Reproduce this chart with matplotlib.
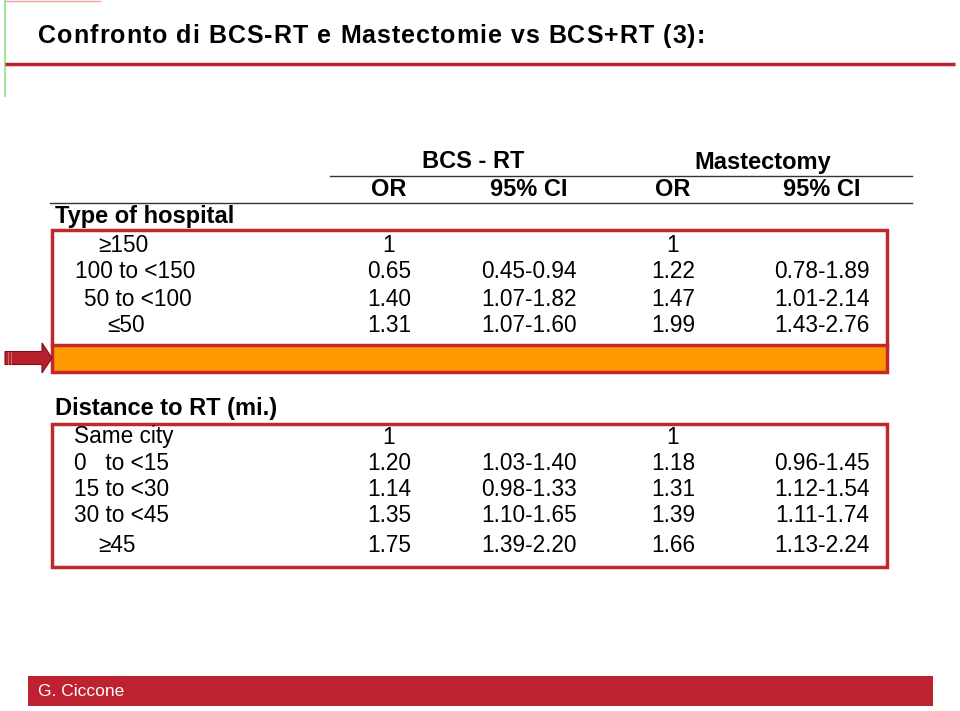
import matplotlib
matplotlib.use("Agg")
import matplotlib.pyplot as plt
from matplotlib.patches import Rectangle, FancyArrow

plt.rcParams["font.family"] = ["Liberation Sans", "DejaVu Sans"]

# ── data ──
title = "Confronto di BCS-RT e Mastectomie vs BCS+RT (3):"
groups = ["BCS - RT", "Mastectomy"]
col_heads = ["OR", "95% CI", "OR", "95% CI"]

hosp_title = "Type of hospital"
hosp_labels = ["\u2265150", "100 to <150", "50 to <100", "\u226450"]
hosp_bcs_or = ["1", "0.65", "1.40", "1.31"]
hosp_bcs_ci = ["", "0.45-0.94", "1.07-1.82", "1.07-1.60"]
hosp_mast_or = ["1", "1.22", "1.47", "1.99"]
hosp_mast_ci = ["", "0.78-1.89", "1.01-2.14", "1.43-2.76"]

dist_title = "Distance to RT (mi.)"
dist_labels = ["Same city", "0   to <15", "15 to <30", "30 to <45", "\u226545"]
dist_bcs_or = ["1", "1.20", "1.14", "1.35", "1.75"]
dist_bcs_ci = ["", "1.03-1.40", "0.98-1.33", "1.10-1.65", "1.39-2.20"]
dist_mast_or = ["1", "1.18", "1.31", "1.39", "1.66"]
dist_mast_ci = ["", "0.96-1.45", "1.12-1.54", "1.11-1.74", "1.13-2.24"]

footer = "G. Ciccone"

# ── layout (pixel coords) ──
W, H = 960, 711
RED = "#BE2230"
BOX_RED = "#C1272D"
ORANGE = "#FF9900"
col_x = [389, 529, 673, 822]
group_x = [473, 763]
FS = 16.3
FS_B = 17

fig = plt.figure(figsize=(W / 100, H / 100), dpi=100)
ax = fig.add_axes([0, 0, 1, 1])
ax.set_xlim(0, W)
ax.set_ylim(H, 0)
ax.axis("off")

# slide decorations
ax.plot([5, 100], [1, 1], color="#F0A0A0", lw=1)
ax.plot([5, 5], [0, 96], color="#90E090", lw=1.2)
ax.plot([5, 955], [64, 64], color=RED, lw=2.5, solid_capstyle="butt")

# title with letter spacing
renderer = fig.canvas.get_renderer()
tprops = dict(fontsize=18, fontweight="bold", va="center", ha="left")


def text_w(s):
    t = ax.text(0, 0, s + "|", **tprops)
    w = t.get_window_extent(renderer).width
    t.remove()
    t = ax.text(0, 0, "|", **tprops)
    w -= t.get_window_extent(renderer).width
    t.remove()
    return w


x0, x1 = 38, 705
natural = text_w(title)
track = (x1 - x0 - natural) / (len(title) - 1)
for i, ch in enumerate(title):
    ax.text(x0 + text_w(title[:i]) + i * track, 36, ch, **tprops)

# table header
for gx, g in zip(group_x, groups):
    ax.text(gx, 162, g, fontsize=FS_B, fontweight="bold", ha="center", va="center")
ax.plot([330, 912], [176, 176], color="#333333", lw=1)
for cx, h in zip(col_x, col_heads):
    ax.text(cx, 189, h, fontsize=FS_B, fontweight="bold", ha="center", va="center")
ax.plot([50, 912], [203, 203], color="#333333", lw=1)

# section 1
ax.text(55, 217, hosp_title, fontsize=17, fontweight="bold", ha="left", va="center")
ax.add_patch(Rectangle((52, 345), 835, 27, facecolor=ORANGE, edgecolor="none", zorder=1))
ax.add_patch(Rectangle((52, 230), 835, 142, facecolor="none", edgecolor=BOX_RED, lw=2.5, zorder=3))
ax.plot([52, 887], [345, 345], color=BOX_RED, lw=2.5, zorder=3)
hosp_y = [246, 272, 299, 326]
hosp_lx = [98, 75, 84, 107]
for i, y in enumerate(hosp_y):
    ax.text(hosp_lx[i], y, hosp_labels[i], fontsize=FS, ha="left", va="center")
    for cx, v in zip(col_x, [hosp_bcs_or[i], hosp_bcs_ci[i], hosp_mast_or[i], hosp_mast_ci[i]]):
        ax.text(cx, y, v, fontsize=FS, ha="center", va="center")

# arrow pointing to the orange bar
ax.add_patch(FancyArrow(5, 358, 47, 0, width=13, head_width=30, head_length=10,
                        length_includes_head=True, facecolor="#B5202A",
                        edgecolor="#7A1016", lw=0.8, zorder=4))
for sx in [8, 11]:
    ax.plot([sx, sx], [352, 364], color="#E06070", lw=0.8, zorder=5)

# section 2
ax.text(55, 408, dist_title, fontsize=17, fontweight="bold", ha="left", va="center")
ax.add_patch(Rectangle((52, 424), 835, 143, facecolor="none", edgecolor=BOX_RED, lw=2.5, zorder=3))
dist_y = [437, 463, 490, 516, 545]
dist_lx = [74, 74, 74, 74, 98]
for i, y in enumerate(dist_y):
    ax.text(dist_lx[i], y, dist_labels[i], fontsize=FS, ha="left", va="center")
    for cx, v in zip(col_x, [dist_bcs_or[i], dist_bcs_ci[i], dist_mast_or[i], dist_mast_ci[i]]):
        ax.text(cx, y, v, fontsize=FS, ha="center", va="center")

# footer
ax.add_patch(Rectangle((28, 676), 905, 30, facecolor=RED, edgecolor="none"))
ax.text(38, 691, footer, fontsize=12.5, color="white", ha="left", va="center")

fig.savefig("out.png", dpi=100)
